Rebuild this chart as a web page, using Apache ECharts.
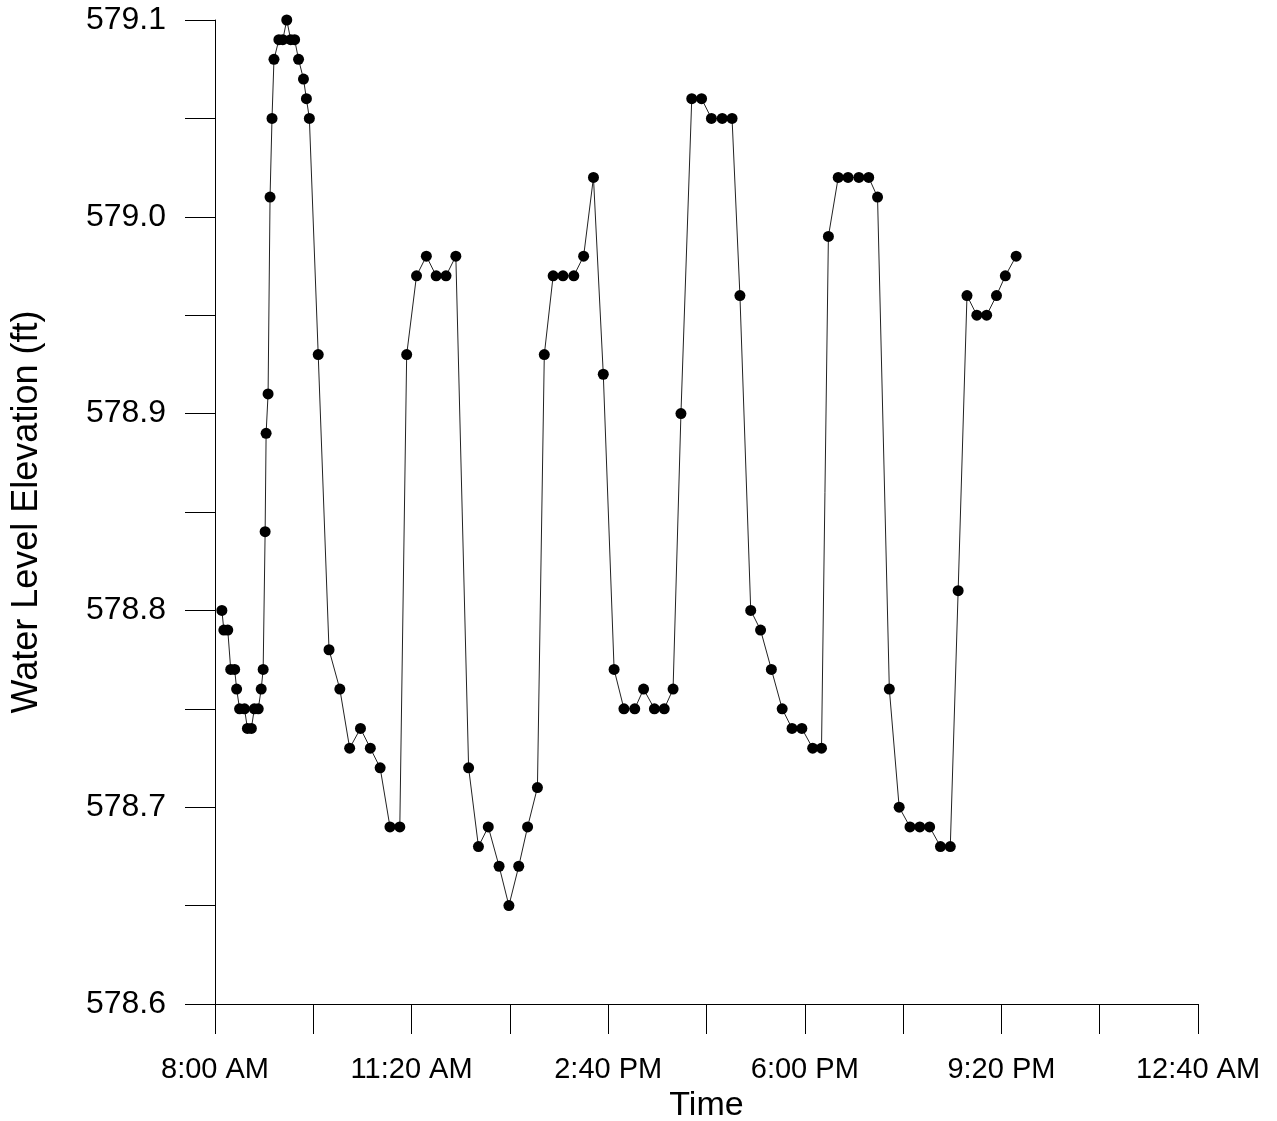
<!DOCTYPE html>
<html>
<head>
<meta charset="utf-8">
<title>Water Level Elevation</title>
<script src="https://cdn.jsdelivr.net/npm/echarts@6/dist/echarts.min.js"></script>
<style>
  html, body { margin: 0; padding: 0; background: #fff; }
  #chart { width: 1277px; height: 1121px; }
</style>
</head>
<body>
<div id="chart"></div>
<script>
// minutes after 8:00 AM
var elapsedMin = [
  7, 9, 13, 16, 20, 22, 25, 30, 33, 37, 40, 44, 47, 49, 51, 52, 54, 56, 58, 60,
  65, 69, 73, 77, 81, 85, 90, 93, 96,
  105, 116, 127, 137, 148, 158, 168, 178, 188, 195, 205, 215, 225, 235, 245,
  258, 268, 278, 289, 299, 309, 318, 328, 335, 344, 354, 365, 375, 385, 395,
  406, 416, 427, 436, 447, 457, 466, 474, 485, 495, 505, 516, 526, 534,
  545, 555, 566, 577, 587, 597, 608, 617, 624, 634, 644, 655, 665, 674,
  686, 696, 707, 717, 727, 738, 748, 756, 765, 775, 785, 795, 804, 815
];
// water level elevation (ft)
var waterLevel = [
  578.80, 578.79, 578.79, 578.77, 578.77, 578.76, 578.75, 578.75, 578.74, 578.74,
  578.75, 578.75, 578.76, 578.77, 578.84, 578.89, 578.91, 579.01, 579.05, 579.08,
  579.09, 579.09, 579.10, 579.09, 579.09, 579.08, 579.07, 579.06, 579.05,
  578.93, 578.78, 578.76, 578.73, 578.74, 578.73, 578.72, 578.69, 578.69, 578.93,
  578.97, 578.98, 578.97, 578.97, 578.98,
  578.72, 578.68, 578.69, 578.67, 578.65, 578.67, 578.69, 578.71, 578.93, 578.97,
  578.97, 578.97, 578.98, 579.02, 578.92,
  578.77, 578.75, 578.75, 578.76, 578.75, 578.75, 578.76, 578.90, 579.06, 579.06,
  579.05, 579.05, 579.05, 578.96,
  578.80, 578.79, 578.77, 578.75, 578.74, 578.74, 578.73, 578.73, 578.99, 579.02,
  579.02, 579.02, 579.02, 579.01,
  578.76, 578.70, 578.69, 578.69, 578.69, 578.68, 578.68, 578.81, 578.96, 578.95,
  578.95, 578.96, 578.97, 578.98
];
// x tick labels every 200 minutes
var timeLabels = ['8:00 AM', '11:20 AM', '2:40 PM', '6:00 PM', '9:20 PM', '12:40 AM'];

var seriesData = [];
for (var i = 0; i < elapsedMin.length; i++) {
  seriesData.push([elapsedMin[i], waterLevel[i]]);
}

var font = 'Liberation Sans, Arial, sans-serif';
var chart = echarts.init(document.getElementById('chart'));
var option = {
  backgroundColor: '#fff',
  animation: false,
  grid: { left: 215, right: 79, top: 20, bottom: 117, outerBoundsMode: 'none' },
  xAxis: {
    type: 'value',
    min: 0,
    max: 1000,
    interval: 100,
    name: 'Time',
    nameLocation: 'middle',
    nameGap: 83,
    nameTextStyle: { fontFamily: font, fontSize: 34, color: '#000' },
    axisLine: { lineStyle: { color: '#000', width: 1 } },
    axisTick: { length: 30, lineStyle: { color: '#000' } },
    axisLabel: {
      margin: 51,
      fontFamily: font,
      fontSize: 29,
      color: '#000',
      formatter: function (v) {
        if (Math.round(v) % 200 !== 0) return '';
        return timeLabels[Math.round(v) / 200];
      }
    },
    splitLine: { show: false }
  },
  yAxis: {
    type: 'value',
    min: 578.6,
    max: 579.1,
    interval: 0.05,
    name: 'Water Level Elevation (ft)',
    nameLocation: 'middle',
    nameGap: 170,
    nameTextStyle: { fontFamily: font, fontSize: 36, color: '#000' },
    axisLine: { show: true, lineStyle: { color: '#000', width: 1 } },
    axisTick: { show: true, length: 30, lineStyle: { color: '#000' } },
    axisLabel: {
      margin: 49,
      fontFamily: font,
      fontSize: 32,
      color: '#000',
      formatter: function (v) {
        if (Math.round(v * 100) % 10 !== 0) return '';
        return v.toFixed(1);
      }
    },
    splitLine: { show: false }
  },
  series: [{
    type: 'line',
    data: seriesData,
    symbol: 'circle',
    symbolSize: 11,
    itemStyle: { color: '#000' },
    lineStyle: { color: '#222', width: 1 }
  }]
};
chart.setOption(option);
</script>
</body>
</html>
